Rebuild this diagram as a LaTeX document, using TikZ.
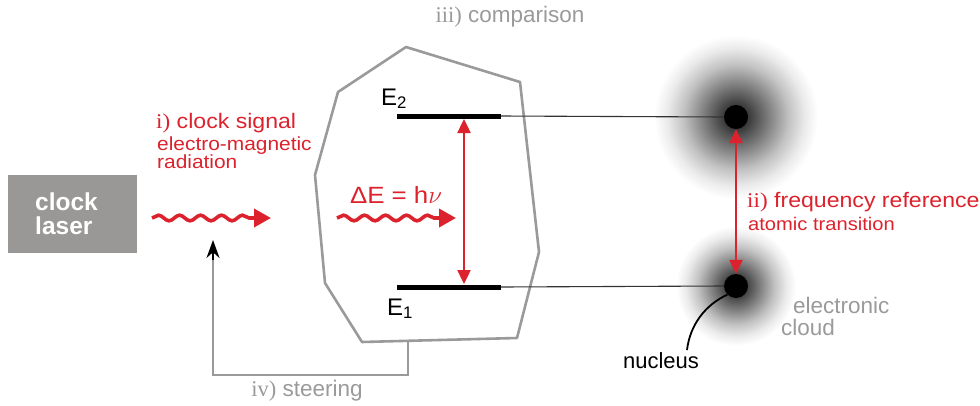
\documentclass[tikz,border=0pt]{standalone}
\usepackage{fontspec}
\setmainfont{Liberation Sans}
\newfontfamily\romfont{Liberation Serif}
\newfontfamily\widesans[FakeStretch=1.1]{Liberation Sans}
\newfontfamily\wideserif[FakeStretch=1.1]{Liberation Serif}
\usetikzlibrary{decorations.pathmorphing,arrows.meta}
\definecolor{cred}{HTML}{DC222C}
\definecolor{cgray}{HTML}{9A9A9A}
\definecolor{cbox}{HTML}{999896}
\pgfdeclareradialshading{cloudshade}{\pgfpoint{0bp}{0bp}}{color(0bp)=(black!92); color(4bp)=(black!76); color(10bp)=(black!50); color(16bp)=(black!24); color(21bp)=(black!8); color(25bp)=(white); color(50bp)=(white)}
\begin{document}
\begin{tikzpicture}[x=1pt,y=-1pt,
  wave/.style={cred, line width=3.6pt, decorate,
    decoration={snake, amplitude=2.8pt, segment length=21pt, post length=16pt},
    -{Triangle[length=17pt,width=18pt]}},
  redarrow/.style={cred, line width=2.4pt, {Triangle[length=14pt,width=13pt]}-{Triangle[length=14pt,width=13pt]}},
  level/.style={line width=5pt, black},
  thinline/.style={line width=1.1pt, black!80},
  grayline/.style={cgray, line width=2.6pt},
  graytext/.style={text=cgray, font=\fontsize{22.5}{26}\selectfont, inner sep=0pt},
  redtext/.style={text=cred, inner sep=0pt, anchor=base west},
  nuc/.style={circle, fill=black, minimum size=24pt, inner sep=0pt}
]
\useasboundingbox (0,0) rectangle (980,405);

% clouds
\shade[shading=cloudshade] (736,117) circle[radius=82pt];
\shade[shading=cloudshade] (736,286) circle[radius=60pt];

% clock laser
\node[fill=cbox, minimum width=129pt, minimum height=78pt, inner sep=0pt, anchor=north west] (laser) at (8,175) {};
\node[text=white, font=\bfseries\fontsize{24.5}{24}\selectfont, align=left, anchor=west, inner sep=0pt] (lasertxt) at (35,214) {clock\\laser};

% comparison polygon
\draw[grayline, line join=round] (406,47) -- (520,82) -- (539,252) -- (517,338) -- (362,342) -- (325,283) -- (315,175) -- (338,92) -- cycle;
\coordinate (polybot) at (408,341);
\coordinate (steerA) at (408,375);
\coordinate (steerB) at (213,375);
\coordinate (steerTip) at (213,240);
\draw[grayline] (polybot) -- (steerA) -- (steerB) -- (213,258);
\draw[black, line width=2pt, -{Stealth[length=18pt,width=13pt]}] (213,260) -- (steerTip);

% labels
\node[graytext] (comp) at (510,17) {{\romfont iii)} comparison};
\node[graytext] (steer) at (307,391) {{\romfont iv)} steering};

% energy levels
\coordinate (E2l) at (397,116);
\coordinate (E2r) at (501,116);
\coordinate (E1l) at (397,287);
\coordinate (E1r) at (501,287);
\node[nuc] (n2) at (736,117) {};
\node[nuc] (n1) at (736,286) {};
\draw[thinline] (E2r) -- (n2.west);
\draw[thinline] (E1r) -- (n1.west);
\draw[level] (E2l) -- (E2r);
\draw[level] (E1l) -- (E1r);
\node[font=\fontsize{24}{24}\selectfont, anchor=base west, inner sep=0pt] (E2) at (381,105) {E\textsubscript{2}};
\node[font=\fontsize{24}{24}\selectfont, anchor=base west, inner sep=0pt] (E1) at (387,315) {E\textsubscript{1}};

% transition arrows
\coordinate (tA) at (464,119);
\coordinate (tB) at (464,284);
\draw[redarrow] (tA) -- (tB);
\draw[redarrow] (n2.south) -- (n1.north);

% wavy arrows
\coordinate (w1a) at (152,218);
\coordinate (w1b) at (271,218);
\draw[wave] (w1a) -- (w1b);
\coordinate (w2a) at (337,218);
\coordinate (w2b) at (456,218);
\draw[wave] (w2a) -- (w2b);

\node[text=cred, inner sep=0pt, font=\widesans\fontsize{23.5}{24}\selectfont, anchor=base] (dE) at (396,203) {ΔE = h$\nu$};

% red labels
\node[redtext, font=\widesans\fontsize{21}{21}\selectfont] (sig1) at (156,128) {{\wideserif i)} clock signal};
\node[redtext, font=\widesans\fontsize{19}{19}\selectfont] (sig2) at (157,150) {electro-magnetic};
\node[redtext, font=\widesans\fontsize{19}{19}\selectfont] (sig3) at (157,168) {radiation};
\node[redtext, font=\widesans\fontsize{21}{21}\selectfont] (freq1) at (747,207) {{\wideserif ii)} frequency reference};
\node[redtext, font=\widesans\fontsize{18.3}{19}\selectfont] (freq2) at (748,230) {atomic transition};

% cloud and nucleus labels
\node[graytext, anchor=base west] (cl1) at (793,313) {electronic};
\node[graytext, anchor=base west] (cl2) at (781,335) {cloud};
\node[font=\fontsize{22}{22}\selectfont, anchor=base, inner sep=0pt] (nucl) at (661,368) {nucleus};
\draw[black, line width=1.8pt] (n1.south west) .. controls (705,305) and (690,325) .. (687,350);
\end{tikzpicture}
\end{document}
